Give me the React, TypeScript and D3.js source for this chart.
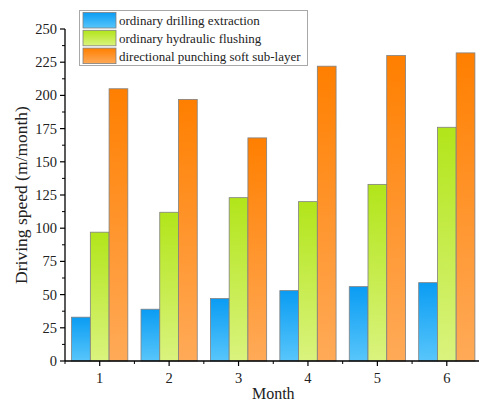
import React from "react";
import * as d3 from "d3";

const months = ["1", "2", "3", "4", "5", "6"];
const seriesNames = [
  "ordinary drilling extraction",
  "ordinary hydraulic flushing",
  "directional punching soft sub-layer",
];
const drilling = [33, 39, 47, 53, 56, 59];
const flushing = [97, 112, 123, 120, 133, 176];
const punching = [205, 197, 168, 222, 230, 232];
const yTicks = [0, 25, 50, 75, 100, 125, 150, 175, 200, 225, 250];

const gradients = [
  { id: "gBlue", top: "#0a9cf3", bottom: "#58c6fb" },
  { id: "gGreen", top: "#b2e51a", bottom: "#daf37e" },
  { id: "gOrange", top: "#ff7f00", bottom: "#ffaa58" },
];

export default function App() {
  const W = 479, H = 403;
  const left = 65, right = 481.5, top = 29, bottom = 361;
  const y = d3.scaleLinear().domain([0, 250]).range([bottom, top]);
  const x = d3.scaleBand().domain(months).range([left, right]).paddingInner(0.19).paddingOuter(0.095);
  const xLin = d3.scaleLinear().domain([0.5, 6.5]).range([left, right]);
  const inner = d3.scaleBand().domain(["0", "1", "2"]).range([0, x.bandwidth()]);
  const data = [drilling, flushing, punching];
  const font = "'Liberation Serif', 'Times New Roman', serif";
  const minorY = d3.range(12.5, 250, 25);
  const minorX = d3.range(0.5, 7, 1);

  return (
    <svg width={W} height={H} style={{ position: "absolute", left: 0, top: 0, background: "#fff" }} fontFamily={font}>
      <defs>
        {gradients.map((g) => (
          <linearGradient key={g.id} id={g.id} x1="0" y1="0" x2="0" y2="1">
            <stop offset="0" stopColor={g.top} />
            <stop offset="1" stopColor={g.bottom} />
          </linearGradient>
        ))}
      </defs>
      {data.map((vals, si) =>
        vals.map((v, i) => (
          <rect
            key={`${si}-${i}`}
            x={(x(months[i]) as number) + (inner(String(si)) as number)}
            y={y(v)}
            width={inner.bandwidth()}
            height={y(0) - y(v)}
            fill={`url(#${gradients[si].id})`}
            stroke="#808080"
            strokeWidth={0.8}
          />
        ))
      )}
      {/* y axis */}
      <line x1={left} x2={left} y1={top} y2={bottom} stroke="#000" strokeWidth={1.3} />
      {yTicks.map((t) => (
        <g key={t}>
          <line x1={left - 5} x2={left} y1={y(t)} y2={y(t)} stroke="#000" strokeWidth={1.2} />
          <text x={left - 8} y={y(t)} dy="0.35em" textAnchor="end" fontSize={14.5} fill="#222">
            {t}
          </text>
        </g>
      ))}
      {minorY.map((t) => (
        <line key={t} x1={left - 3} x2={left} y1={y(t)} y2={y(t)} stroke="#000" strokeWidth={1} />
      ))}
      {/* x axis */}
      <line x1={left} x2={right} y1={bottom} y2={bottom} stroke="#000" strokeWidth={1.3} />
      {months.map((m, i) => (
        <g key={m}>
          <line x1={xLin(i + 1)} x2={xLin(i + 1)} y1={bottom} y2={bottom + 5} stroke="#000" strokeWidth={1.2} />
          <text x={xLin(i + 1)} y={bottom + 22} textAnchor="middle" fontSize={14.5} fill="#222">
            {m}
          </text>
        </g>
      ))}
      {minorX.map((t) => (
        <line key={t} x1={xLin(t)} x2={xLin(t)} y1={bottom} y2={bottom + 3} stroke="#000" strokeWidth={1} />
      ))}
      <text x={(left + right) / 2} y={399} textAnchor="middle" fontSize={16} fill="#222">
        Month
      </text>
      <text
        transform={`translate(27,${(top + bottom) / 2}) rotate(-90)`}
        textAnchor="middle"
        fontSize={17.5}
        fill="#222"
      >
        Driving speed (m/month)
      </text>
      {/* legend */}
      <rect x={79.5} y={10.5} width={228} height={55} fill="#fff" stroke="#a8a8a8" strokeWidth={1} />
      {seriesNames.map((name, i) => (
        <g key={name}>
          <rect
            x={83}
            y={12.5 + i * 17.8}
            width={33}
            height={15.5}
            fill={`url(#${gradients[i].id})`}
            stroke="#808080"
            strokeWidth={0.8}
          />
          <text x={119} y={20.5 + i * 17.8} dy="0.35em" fontSize={13} fill="#222">
            {name}
          </text>
        </g>
      ))}
    </svg>
  );
}
